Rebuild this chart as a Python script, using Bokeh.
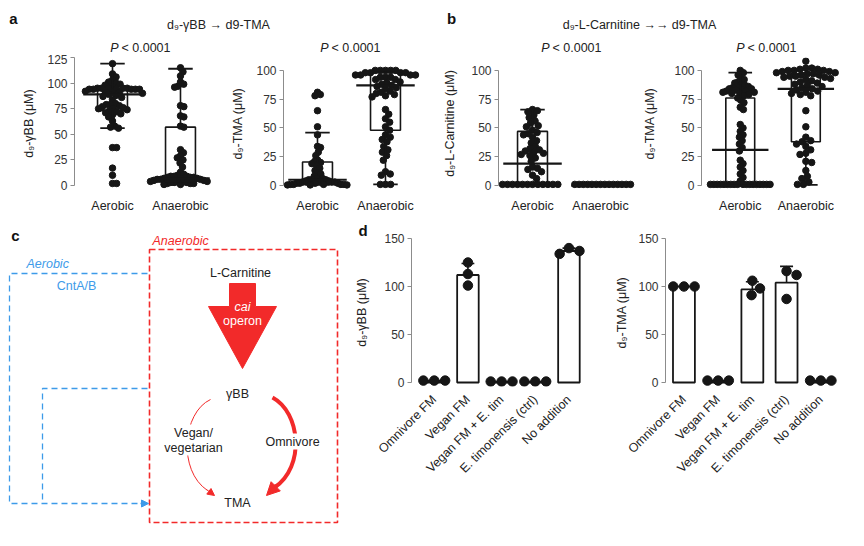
import math
from bokeh.plotting import figure
from bokeh.models import Range1d, FixedTicker, Title, Arrow, NormalHead
from bokeh.layouts import column, row
from bokeh.embed import file_html
from bokeh.resources import INLINE
from bokeh.core.properties import value

FONT = "Liberation Sans"
INK = "#161616"
AXIS = "#8c8c8c"
TICKTXT = "#333333"
RED = "#f22a2a"
BLUE = "#3d9be9"

# ---------------- data ----------------
groups = ["Aerobic", "Anaerobic"]

# panel a: d9-gammaBB -> d9-TMA
a1_aerobic = [119, 109, 106, 103, 101, 100, 99, 98, 97,
              95, 95, 95, 95, 95, 94, 94, 94, 94, 94, 94,
              92, 92, 91, 91, 90, 89, 88, 87, 86, 84,
              80, 79, 79, 78, 77, 76, 75, 75, 74, 73, 72, 71, 70, 69, 67,
              63, 58, 57, 56, 37, 37, 17, 10, 2, 2]
a1_anaerobic = [115, 111, 107, 101, 99, 97, 96, 78, 77, 68, 67, 58, 57,
                35, 32, 29, 27, 25, 22, 18,
                13, 11, 10, 9, 9, 9, 8, 8, 8, 7, 7, 7, 6, 6, 6, 5, 5, 5,
                4, 4, 4, 3, 3, 3, 2, 2, 2, 1, 1]
a1_low = [56, 1]
a1_q1 = [73, 4]
a1_median = [89, 7]
a1_q3 = [95, 57]
a1_high = [119, 114]

a2_aerobic = [81, 79, 78, 65, 51, 44, 34, 33, 29, 26, 22, 21, 20, 19, 17, 15, 13, 11, 10, 8,
              6, 6, 5, 5, 5, 4, 4, 4, 3, 3, 3, 2, 2, 2, 2, 1, 1, 1, 1, 1, 0.5, 0.5, 0.5]
a2_anaerobic = [100, 100, 100, 100, 100, 98, 98, 98, 98, 96, 96, 96, 96, 94, 94, 94, 92, 92,
                90, 89, 88, 87, 86, 85, 84, 82, 81, 80, 79, 78, 77,
                66, 62, 58, 55, 51, 48, 44, 42, 40, 38, 34, 31, 29, 26, 22, 12, 10, 9, 1, 1, 1]
a2_low = [0.5, 1]
a2_q1 = [1, 48]
a2_median = [5, 87]
a2_q3 = [20.5, 98]
a2_high = [46, 100]

# panel b: d9-L-Carnitine -> d9-TMA
b1_aerobic = [66, 65, 64, 61, 59, 56, 54, 52, 51, 48, 46, 45, 44, 42, 39, 37, 34, 32, 31, 30,
              29, 28, 27, 26, 24, 21, 16, 15, 14, 12, 9, 6,
              1, 1, 1, 1, 1, 1, 1, 1, 1, 1, 1, 1]
b1_anaerobic = [1, 1, 1, 1, 1, 1, 1, 1, 1, 1, 1, 1, 1, 1]
b1_low = [0, 0]
b1_q1 = [0, 0]
b1_median = [19, 0]
b1_q3 = [47, 0]
b1_high = [66, 0]

b2_aerobic = [100, 98, 96, 93, 92, 90, 89, 88, 87, 86, 85, 85, 84, 84, 83, 83, 82, 82, 81, 81,
              80, 80, 79, 78, 76, 74, 72, 68, 66, 53, 50, 47, 44, 42, 39, 36, 33, 30,
              22, 19, 16, 13, 10, 7, 4,
              1, 1, 1, 1, 1, 1, 1, 1, 1, 1, 1, 1, 1, 1, 1, 1, 1, 1]
b2_anaerobic = [108, 102, 102, 101, 101, 100, 100, 100, 99, 99, 98, 98, 97, 97, 96, 96, 95, 95,
                94, 94, 93, 92, 91, 90, 89, 88, 87, 86, 85, 84, 83, 82, 81, 80, 79, 78,
                65, 51, 42, 39, 38, 36, 34, 31, 28, 27, 21, 20, 13, 8, 6, 3, 1, 1]
b2_low = [0, 0.6]
b2_q1 = [0, 38]
b2_median = [31, 84]
b2_q3 = [76, 97]
b2_high = [98, 101]

# panel d
d_categories = ["Omnivore FM", "Vegan FM", "Vegan FM + E. tim", "E. timonensis (ctrl)", "No addition"]
d1_bars = [2, 112, 1, 1, 137]
d1_dots = [[2, 2, 2], [125, 113, 101], [1, 1, 1], [1, 1, 1], [134, 140, 137]]
d1_sd = [0, 12, 0, 0, 3]
d2_bars = [100, 2, 97, 104, 2]
d2_dots = [[100, 100, 100], [2, 2, 2], [106, 98, 91], [116, 112, 87], [2, 2, 2]]
d2_sd = [0, 0, 8, 17, 0]

# texts
title_a = "d₉-γBB → d9-TMA"
title_b = "d₉-L-Carnitine →→ d9-TMA"
p_text = "< 0.0001"


# ---------------- helpers ----------------
def swarm(vals, center, px_x, px_y, diam, max_half_px):
    order = sorted(range(len(vals)), key=lambda i: -vals[i])
    placed = []
    offs = [0.0] * len(vals)
    for i in order:
        y = vals[i] * px_y
        cands = [0.0]
        for xo, yo in placed:
            dy = abs(y - yo)
            if dy < diam:
                dx = math.sqrt(diam * diam - dy * dy)
                cands.extend([xo + dx, xo - dx])
        cands.sort(key=lambda c: (round(abs(c), 6), -c))
        chosen = cands[-1]
        for c in cands:
            if all((c - xo) ** 2 + (y - yo) ** 2 >= diam * diam - 1e-6 for xo, yo in placed):
                chosen = c
                break
        placed.append((chosen, y))
        offs[i] = chosen
    ext = max([abs(o) for o in offs] + [1e-9])
    k = min(1.0, max_half_px / ext)
    return [center + o * k / px_x for o in offs]


def style_axes(p, y_ticks, y_bounds, y_label, label_standoff, x_labels, rotate=False):
    p.grid.visible = False
    p.outline_line_color = None
    yax = p.yaxis[0]
    yax.ticker = FixedTicker(ticks=y_ticks)
    yax.bounds = y_bounds
    yax.axis_line_color = AXIS
    yax.major_tick_line_color = AXIS
    yax.minor_tick_line_color = None
    yax.major_tick_out = 4
    yax.major_tick_in = 0
    yax.major_label_standoff = 3
    yax.major_label_text_font = FONT
    yax.major_label_text_font_size = "12px"
    yax.major_label_text_color = TICKTXT
    yax.axis_label = y_label
    yax.axis_label_text_font = FONT
    yax.axis_label_text_font_size = "12.5px"
    yax.axis_label_text_font_style = "normal"
    yax.axis_label_text_color = "#222222"
    yax.axis_label_standoff = int(label_standoff)
    xax = p.xaxis[0]
    xax.ticker = FixedTicker(ticks=[i + 1 for i in range(len(x_labels))])
    xax.major_label_overrides = {i + 1: lab for i, lab in enumerate(x_labels)}
    xax.axis_line_color = None
    xax.major_tick_line_color = None
    xax.minor_tick_line_color = None
    xax.major_label_text_font = FONT
    xax.major_label_text_font_size = "12.5px"
    xax.major_label_text_color = "#222222"
    xax.major_label_standoff = 3 if not rotate else 5
    if rotate:
        xax.major_label_orientation = math.pi / 4


def box_panel(width, left_border, xr, yr, y_bounds, y_ticks, y_label, standoff,
              px_x, px_y, series, low, q1, med, q3, high):
    p = figure(width=width, height=161, x_range=Range1d(*xr), y_range=Range1d(*yr),
               title=None, output_backend="svg", toolbar_location=None, frame_align=False,
               min_border_left=left_border, min_border_right=0,
               min_border_top=3, min_border_bottom=25)
    style_axes(p, y_ticks, y_bounds, y_label, standoff, groups)
    xs, ys = [], []
    for gi, vals in enumerate(series):
        xs += swarm(vals, gi + 1, px_x, px_y, 6.0, 30)
        ys += vals
    p.scatter(xs, ys, size=6.5, fill_color=INK, line_color=INK)
    pos = [i + 1 for i in range(len(series))]
    p.quad(left=[x - 0.22 for x in pos], right=[x + 0.22 for x in pos], bottom=q1, top=q3,
           fill_color=None, line_color=INK, line_width=1.6)
    p.segment(x0=pos, y0=q3, x1=pos, y1=high, line_color=INK, line_width=1.6)
    p.segment(x0=pos, y0=low, x1=pos, y1=q1, line_color=INK, line_width=1.6)
    p.segment(x0=[x - 0.18 for x in pos], y0=high, x1=[x + 0.18 for x in pos], y1=high,
              line_color=INK, line_width=1.8)
    p.segment(x0=[x - 0.18 for x in pos], y0=low, x1=[x + 0.18 for x in pos], y1=low,
              line_color=INK, line_width=1.8)
    p.segment(x0=[x - 0.43 for x in pos], y0=med, x1=[x + 0.43 for x in pos], y1=med,
              line_color=INK, line_width=2.2)
    return p


def bar_panel(width, left_border, xr, y_label, standoff, px_x, bars, dots, sd):
    p = figure(width=width, height=330, x_range=Range1d(*xr), y_range=Range1d(-4.17, 150),
               title=None, output_backend="svg", toolbar_location=None, frame_align=False,
               min_border_left=left_border, min_border_right=0,
               min_border_top=23, min_border_bottom=159)
    style_axes(p, [0, 50, 100, 150], (0, 150), y_label, standoff, d_categories, rotate=True)
    pos = [i + 1 for i in range(len(bars))]
    p.quad(left=[x - 0.32 for x in pos], right=[x + 0.32 for x in pos], bottom=0, top=bars,
           fill_color="white", line_color=INK, line_width=1.8)
    ex = [x for x, s in zip(pos, sd) if s > 0]
    eb = [b for b, s in zip(bars, sd) if s > 0]
    et = [b + s for b, s in zip(bars, sd) if s > 0]
    p.segment(x0=ex, y0=eb, x1=ex, y1=et, line_color=INK, line_width=1.6)
    p.segment(x0=[x - 0.19 for x in ex], y0=et, x1=[x + 0.19 for x in ex], y1=et,
              line_color=INK, line_width=1.6)
    xs, ys = [], []
    for gi, vals in enumerate(dots):
        xs += swarm(vals, gi + 1, px_x, 0.96, 11.0, 13)
        ys += vals
    p.scatter(xs, ys, size=9.5, fill_color=INK, line_color=INK)
    return p


def canvas(width, height, xr, yr):
    p = figure(width=width, height=height, x_range=Range1d(*xr), y_range=Range1d(*yr),
               title=None, output_backend="svg", toolbar_location=None, frame_align=False,
               x_axis_location=None, y_axis_location=None, min_border=0)
    p.grid.visible = False
    p.outline_line_color = None
    return p


def txt(p, x, y, s, size="12.5px", color="#222222", style="normal", align="center"):
    p.text(x=[x], y=[y], text=[s], text_font=value(FONT), text_font_size=value(size),
           text_color=color, text_font_style=style, text_align=align, text_baseline="middle")


# ---------------- header ----------------
head = canvas(862, 54, (0, 862), (54, 0))
txt(head, 13, 18, "a", size="15px", color="#111111", style="bold")
txt(head, 451, 18, "b", size="15px", color="#111111", style="bold")
txt(head, 218, 24, title_a)
txt(head, 639, 24, title_b)
for cx in [140, 350, 571, 766]:
    txt(head, cx - 22, 47, "P", style="italic", align="right")
    txt(head, cx - 19, 47, p_text, align="left")

# ---------------- panels a, b ----------------
a1 = box_panel(222, 74, (0.441, 2.618), (-3.9, 125), (0, 125), [0, 25, 50, 75, 100, 125],
               "d₉-γBB (μM)", 8, 68, 1.032, [a1_aerobic, a1_anaerobic],
               a1_low, a1_q1, a1_median, a1_q3, a1_high)
a2 = box_panel(208, 61, (0.5, 2.662), (-3.45, 111.2), (0, 100), [0, 25, 50, 75, 100],
               "d₉-TMA (μM)", 8, 68, 1.16, [a2_aerobic, a2_anaerobic],
               a2_low, a2_q1, a2_median, a2_q3, a2_high)
b1 = box_panel(210, 68, (0.5, 2.588), (-3.45, 111.2), (0, 100), [0, 25, 50, 75, 100],
               "d₉-L-Carnitine (μM)", 11, 68, 1.16, [b1_aerobic, b1_anaerobic],
               b1_low, b1_q1, b1_median, b1_q3, b1_high)
b2 = box_panel(222, 60, (0.409, 2.864), (-3.45, 111.2), (0, 100), [0, 25, 50, 75, 100],
               "d₉-TMA (μM)", 14, 66, 1.16, [b2_aerobic, b2_anaerobic],
               b2_low, b2_q1, b2_median, b2_q3, b2_high)

# ---------------- panel c (schematic) ----------------
c = canvas(352, 330, (0, 352), (545, 215))
# blue aerobic route
c.multi_line(xs=[[147, 9, 9, 141], [147, 42, 42]], ys=[[273, 273, 503, 503], [388, 388, 503]],
             line_color=BLUE, line_width=1.3, line_dash="6 4")
c.add_layout(Arrow(end=NormalHead(size=7, fill_color=BLUE, line_color=BLUE),
                   x_start=140, y_start=503, x_end=148, y_end=503,
                   line_color=BLUE, line_width=1.3))
# red anaerobic box
c.quad(left=[149], right=[337], top=[249], bottom=[522], fill_color=None,
       line_color=RED, line_width=1.6, line_dash="6 3")
# big cai operon arrow
c.patch(x=[229, 255, 255, 276, 242, 208, 229], y=[283, 283, 306, 306, 368, 306, 306],
        fill_color=RED, line_color=RED)
# curved arrows
c.bezier(x0=[210], y0=[399], x1=[207], y1=[490], cx0=[182], cy0=[412], cx1=[177], cy1=[470],
         line_color=RED, line_width=1.0)
c.add_layout(Arrow(end=NormalHead(size=7, fill_color=RED, line_color=RED),
                   x_start=206, y_start=489, x_end=214, y_end=495,
                   line_color=RED, line_width=1.0))
c.bezier(x0=[272], y0=[397], x1=[274], y1=[487], cx0=[300], cy0=[412], cx1=[305], cy1=[466],
         line_color=RED, line_width=4)
c.add_layout(Arrow(end=NormalHead(size=13, fill_color=RED, line_color=RED),
                   x_start=276, y_start=485, x_end=266, y_end=495,
                   line_color=RED, line_width=4))
c.quad(left=[166, 266], right=[221, 318], top=[424, 433], bottom=[455, 449],
       fill_color="white", line_color=None)
txt(c, 15, 235, "c", size="15px", color="#111111", style="bold")
txt(c, 26, 263, "Aerobic", color=BLUE, style="italic", align="left")
txt(c, 152, 240, "Anaerobic", color=RED, style="italic", align="left")
txt(c, 76, 285, "CntA/B", color=BLUE)
txt(c, 240, 272, "L-Carnitine")
txt(c, 242, 306, "cai", color="white", style="italic")
txt(c, 242, 320, "operon", color="white")
txt(c, 237, 393, "γBB")
txt(c, 193, 432, "Vegan/")
txt(c, 193, 447, "vegetarian")
txt(c, 292, 441, "Omnivore")
txt(c, 237, 502, "TMA")

# ---------------- panel d ----------------
d1 = bar_panel(260, 57, (0.324, 6.294), "d₉-γBB (μM)", 12, 34, d1_bars, d1_dots, d1_sd)
d2 = bar_panel(250, 47, (0.461, 6.22), "d₉-TMA (μM)", 6, 35.25, d2_bars, d2_dots, d2_sd)
d1.add_layout(Title(text="d", text_font=FONT, text_font_size="15px", text_font_style="bold",
                    text_color="#111111", align="left", offset=-53, standoff=0), "above")

layout = column(head, row(a1, a2, b1, b2), row(c, d1, d2))
open("out.html", "w").write(file_html(layout, INLINE))
